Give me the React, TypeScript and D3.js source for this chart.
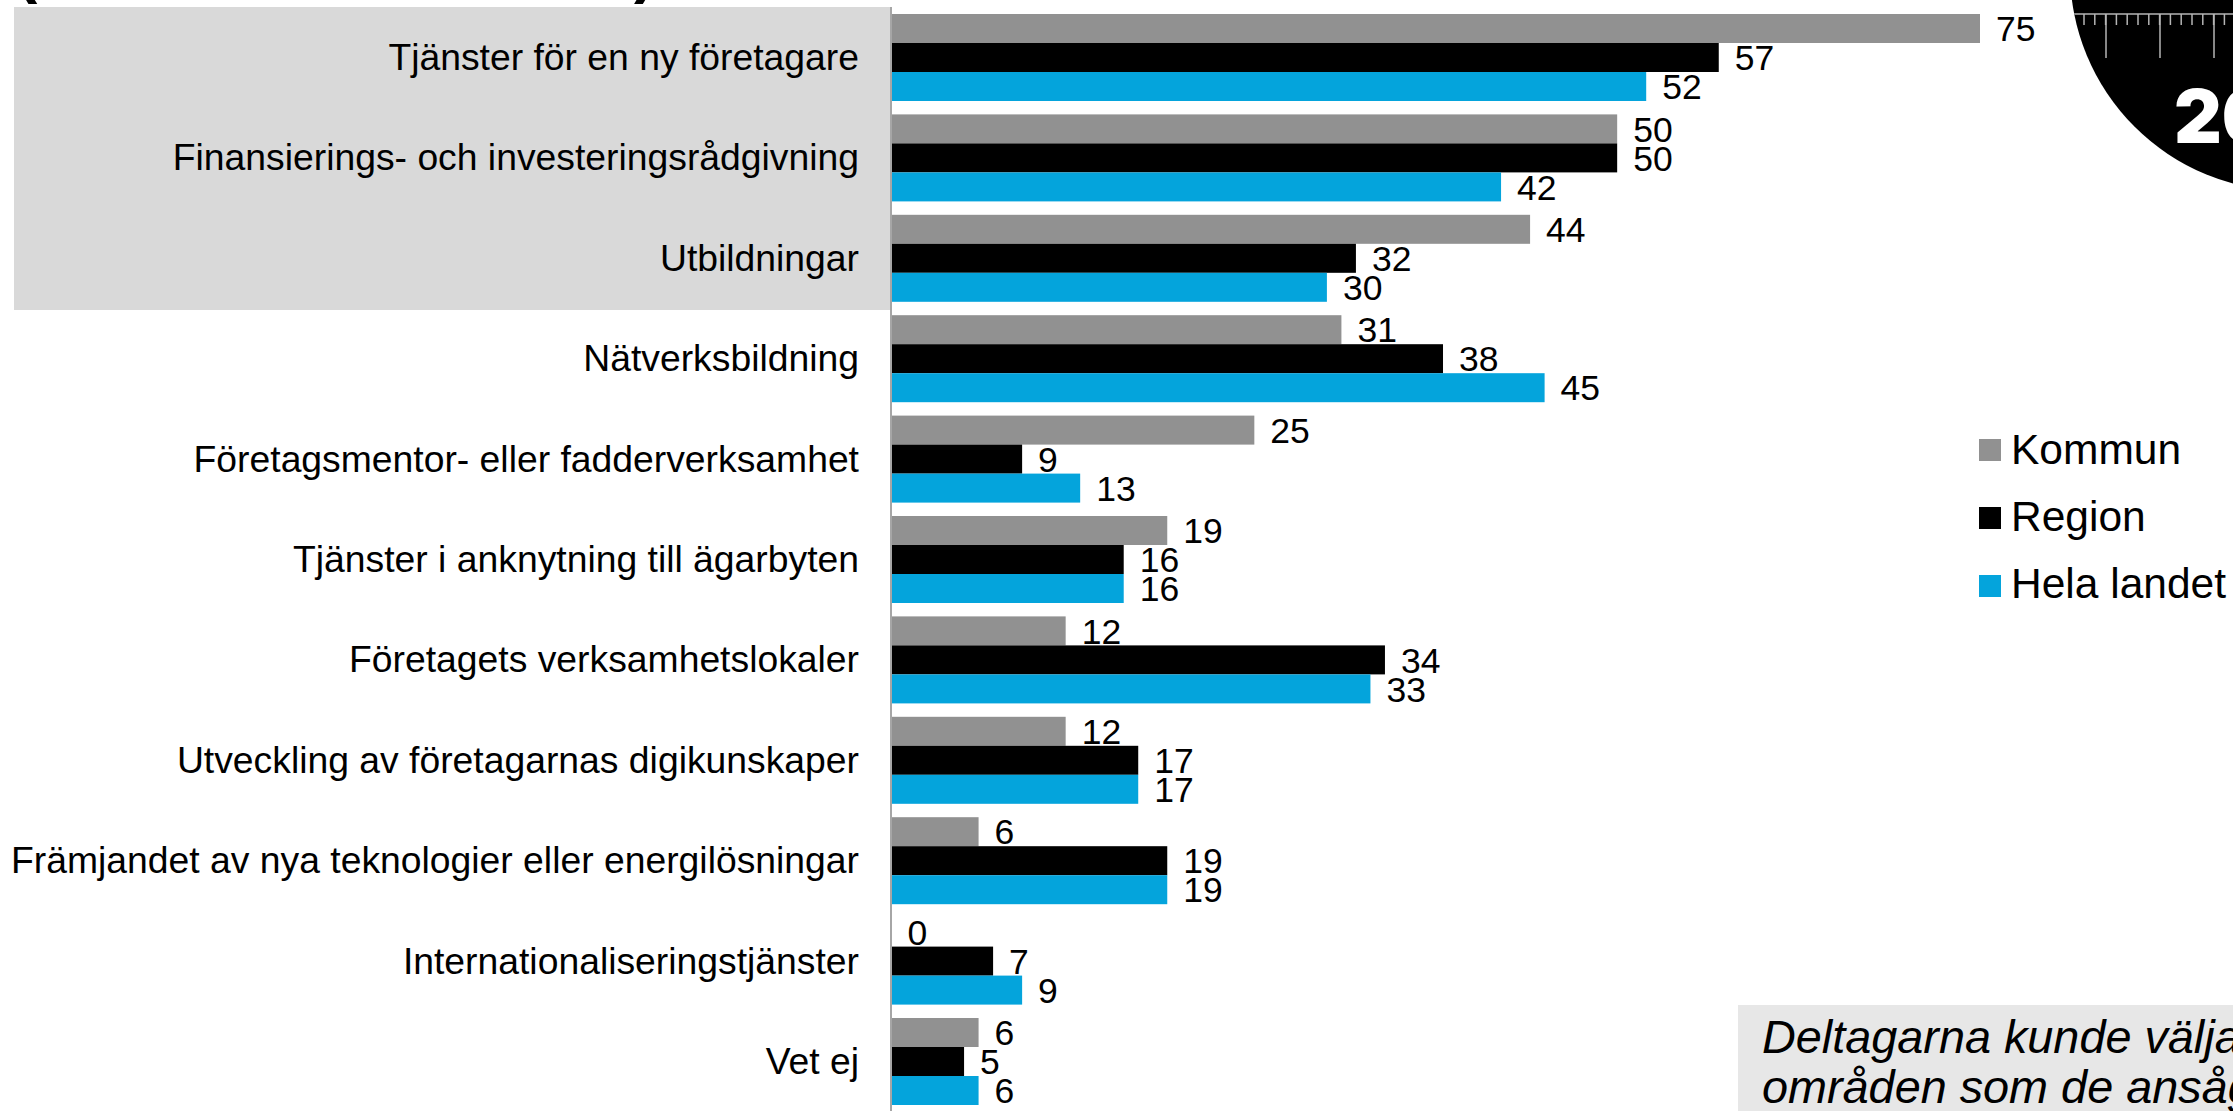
import React from "react";
import * as d3 from "d3";

const categories = [
  "Tjänster för en ny företagare",
  "Finansierings- och investeringsrådgivning",
  "Utbildningar",
  "Nätverksbildning",
  "Företagsmentor- eller fadderverksamhet",
  "Tjänster i anknytning till ägarbyten",
  "Företagets verksamhetslokaler",
  "Utveckling av företagarnas digikunskaper",
  "Främjandet av nya teknologier eller energilösningar",
  "Internationaliseringstjänster",
  "Vet ej",
];
const kommun = [75, 50, 44, 31, 25, 19, 12, 12, 6, 0, 6];
const region = [57, 50, 32, 38, 9, 16, 34, 17, 19, 7, 5];
const helaLandet = [52, 42, 30, 45, 13, 16, 33, 17, 19, 9, 6];
const seriesNames = ["Kommun", "Region", "Hela landet"];
const seriesValues = [kommun, region, helaLandet];
const seriesColors = ["#919191", "#000000", "#04a4dc"];
const noteLines = ["Deltagarna kunde välja flera", "områden som de ansåg viktiga"];
const FONT = "'Liberation Sans', Arial, sans-serif";

export default function App() {
  const x = d3.scaleLinear().domain([0, 75]).range([891.5, 1980]);
  const y0 = d3.scaleBand<number>().domain(d3.range(categories.length)).range([7.3, 1111.7]).padding(0);
  const y1 = d3.scaleBand<number>().domain([0, 1, 2]).range([6.7, 93.7]);
  const legendY = d3.scalePoint<number>().domain([0, 1, 2]).range([450, 586]);
  const majorTicks = d3.range(2106, 2240, 54);
  const minorTicks = d3.range(2084, 2240, 10.8);
  return (
    <svg width={2233} height={1111} viewBox="0 0 2233 1111"
      style={{ position: "absolute", left: 0, top: 0, background: "#fff" }} fontFamily={FONT}>
      <defs>
        <clipPath id="disc"><circle cx={2290} cy={-29} r={220} /></clipPath>
      </defs>
      <text x={16} y={-9} fontSize={64} fontWeight={700}>(</text>
      <text x={634} y={-9} fontSize={64} fontWeight={700}>)</text>
      <rect x={14} y={7} width={877} height={303} fill="#d9d9d9" />
      <circle cx={2290} cy={-29} r={220} fill="#000" />
      <g clipPath="url(#disc)" stroke="#b5b5b5" strokeWidth={1.5}>
        <line x1={2060} x2={2233} y1={14} y2={14} />
        {minorTicks.map((t) => <line key={t} x1={t} x2={t} y1={14} y2={25} />)}
        {majorTicks.map((t) => <line key={t} x1={t} x2={t} y1={14} y2={58} />)}
      </g>
      <text x={2174} y={143} fontSize={74} fontWeight={900} fontFamily="Inter, 'DejaVu Sans'" fill="#fff">20</text>
      {categories.map((c, i) => (
        <g key={c} transform={`translate(0,${y0(i)})`}>
          <text x={859} y={49.6} dy="0.35em" textAnchor="end" fontSize={37.3} fill="#000">{c}</text>
          {seriesValues.map((vals, s) => (
            <g key={s}>
              <rect x={x(0)} y={y1(s)} width={x(vals[i]) - x(0)} height={y1.bandwidth()} fill={seriesColors[s]} />
              <text x={x(vals[i]) + 16} y={y1(s)! + y1.bandwidth() / 2 + 0.2} dy="0.35em" fontSize={35.5} fill="#000">{vals[i]}</text>
            </g>
          ))}
        </g>
      ))}
      <line x1={891} x2={891} y1={7} y2={1111} stroke="#a6a6a6" strokeWidth={2} />
      {seriesNames.map((n, i) => (
        <g key={n}>
          <rect x={1979} y={legendY(i)! - 11} width={22} height={22} fill={seriesColors[i]} />
          <text x={2011} y={legendY(i)! + 14 - i} fontSize={42.5} fill="#000">{n}</text>
        </g>
      ))}
      <rect x={1738} y={1005} width={495} height={106} fill="#e7e7e7" />
      {noteLines.map((t, i) => (
        <text key={t} x={1762} y={1052.5 + i * 50} fontSize={46.8} fontStyle="italic" fill="#000">{t}</text>
      ))}
    </svg>
  );
}
